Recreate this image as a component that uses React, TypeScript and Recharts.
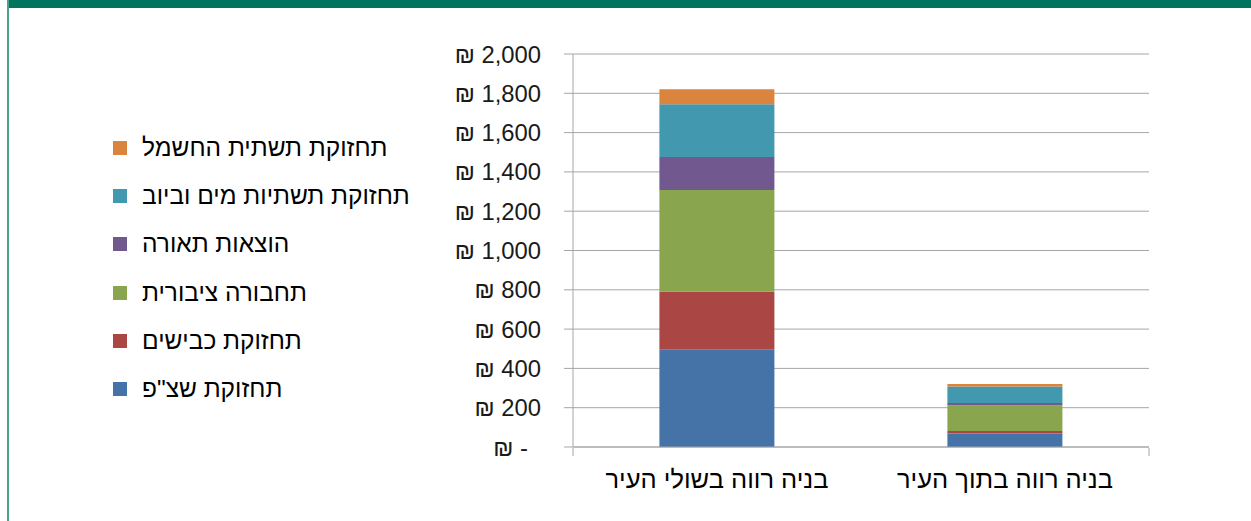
import React from 'react';
import { BarChart, Bar, XAxis, YAxis, CartesianGrid, Legend } from 'recharts';

// categories (x axis)
const categories = ['בניה רווה בשולי העיר', 'בניה רווה בתוך העיר'];

// stacked series, bottom to top
const shatzap = [498, 69];
const roads = [292, 12];
const transit = [518, 131];
const lighting = [168, 12];
const water = [268, 84];
const electric = [76, 12];

const seriesNames = [
    'תחזוקת שצ"פ',
    'תחזוקת כבישים',
    'תחבורה ציבורית',
    'הוצאות תאורה',
    'תחזוקת תשתיות מים וביוב',
    'תחזוקת תשתית החשמל',
];
const seriesColors = ['#4572A7', '#AA4643', '#89A54E', '#71588F', '#4198AF', '#DB843D'];
const seriesValues = [shatzap, roads, transit, lighting, water, electric];

const yTicks = [0, 200, 400, 600, 800, 1000, 1200, 1400, 1600, 1800, 2000];
const edgeTicks = [0, 1, 2];

const data = categories.map((name, i) => {
    const row: any = { name };
    seriesValues.forEach((vals, s) => {
        row['s' + s] = vals[i];
    });
    return row;
});

const FONT = '"Liberation Sans", Arial, sans-serif';
const GRID = '#a6a6a6';

const YTick = ({ x, y, payload }: any) => {
    const v = payload.value;
    const label = v === 0 ? '₪ -' : `₪ ${v.toLocaleString('en-US')}`;
    return (
        <text x={v === 0 ? x - 13 : x} y={y} dy="0.36em" textAnchor="end" fontSize={23.8} fill="#1a1a1a" fontFamily={FONT}>
            {label}
        </text>
    );
};

const XTick = ({ x, y, payload }: any) => (
    <text x={x} y={y + 24} dy="0.36em" textAnchor="middle" fontSize={25.5} fill="#000" fontFamily={FONT}>
        {payload.value}
    </text>
);

const NoTick = () => <g />;

// legend drawn top to bottom in reverse stack order, like the original
const LegendBox = () => {
    const order = seriesNames.map((_, i) => i).reverse();
    return (
        <div style={{ fontFamily: FONT, fontSize: 24.5, color: '#000' }}>
            {order.map((i) => (
                <div key={seriesNames[i]} style={{ height: 48.2, display: 'flex', alignItems: 'center' }}>
                    <span style={{ display: 'inline-block', width: 14, height: 14, background: seriesColors[i], marginRight: 15 }} />
                    <span style={{ whiteSpace: 'nowrap', lineHeight: '24px' }}>{seriesNames[i]}</span>
                </div>
            ))}
        </div>
    );
};

export default function App() {
    return (
        <div style={{ position: 'absolute', left: 0, top: 0, width: 1251, height: 521, background: '#fff', overflow: 'hidden' }}>
            <div style={{ position: 'absolute', left: 7, top: 0, width: 1244, height: 8, background: '#00745C' }} />
            <div style={{ position: 'absolute', left: 7, top: 0, width: 2, height: 521, background: '#46a389' }} />
            <BarChart
                width={1251}
                height={521}
                data={data}
                margin={{ top: 54, right: 102, bottom: 72, left: 0 }}
                barCategoryGap="30%"
            >
                <CartesianGrid xAxisId="cat" vertical={false} stroke={GRID} strokeWidth={1} />
                <XAxis
                    xAxisId="cat"
                    dataKey="name"
                    axisLine={{ stroke: GRID }}
                    tickLine={false}
                    tick={<XTick />}
                    height={1}
                    interval={0}
                />
                {/* tick marks between the categories */}
                <XAxis
                    xAxisId="edges"
                    type="number"
                    domain={[0, categories.length]}
                    ticks={edgeTicks}
                    axisLine={false}
                    tick={<NoTick />}
                    tickSize={8}
                    tickLine={{ stroke: GRID }}
                    height={1}
                />
                <YAxis
                    domain={[0, 2000]}
                    ticks={yTicks}
                    width={573}
                    axisLine={{ stroke: GRID }}
                    tickLine={{ stroke: GRID }}
                    tickSize={9}
                    tickMargin={23}
                    tick={<YTick />}
                    interval={0}
                />
                <Legend
                    layout="vertical"
                    align="center"
                    verticalAlign="middle"
                    content={<LegendBox />}
                    wrapperStyle={{ left: 113, top: 124, width: 360 }}
                />
                {seriesNames.map((n, s) => (
                    <Bar key={n} xAxisId="cat" dataKey={'s' + s} name={n} stackId="a" fill={seriesColors[s]} isAnimationActive={false} />
                ))}
            </BarChart>
        </div>
    );
}
